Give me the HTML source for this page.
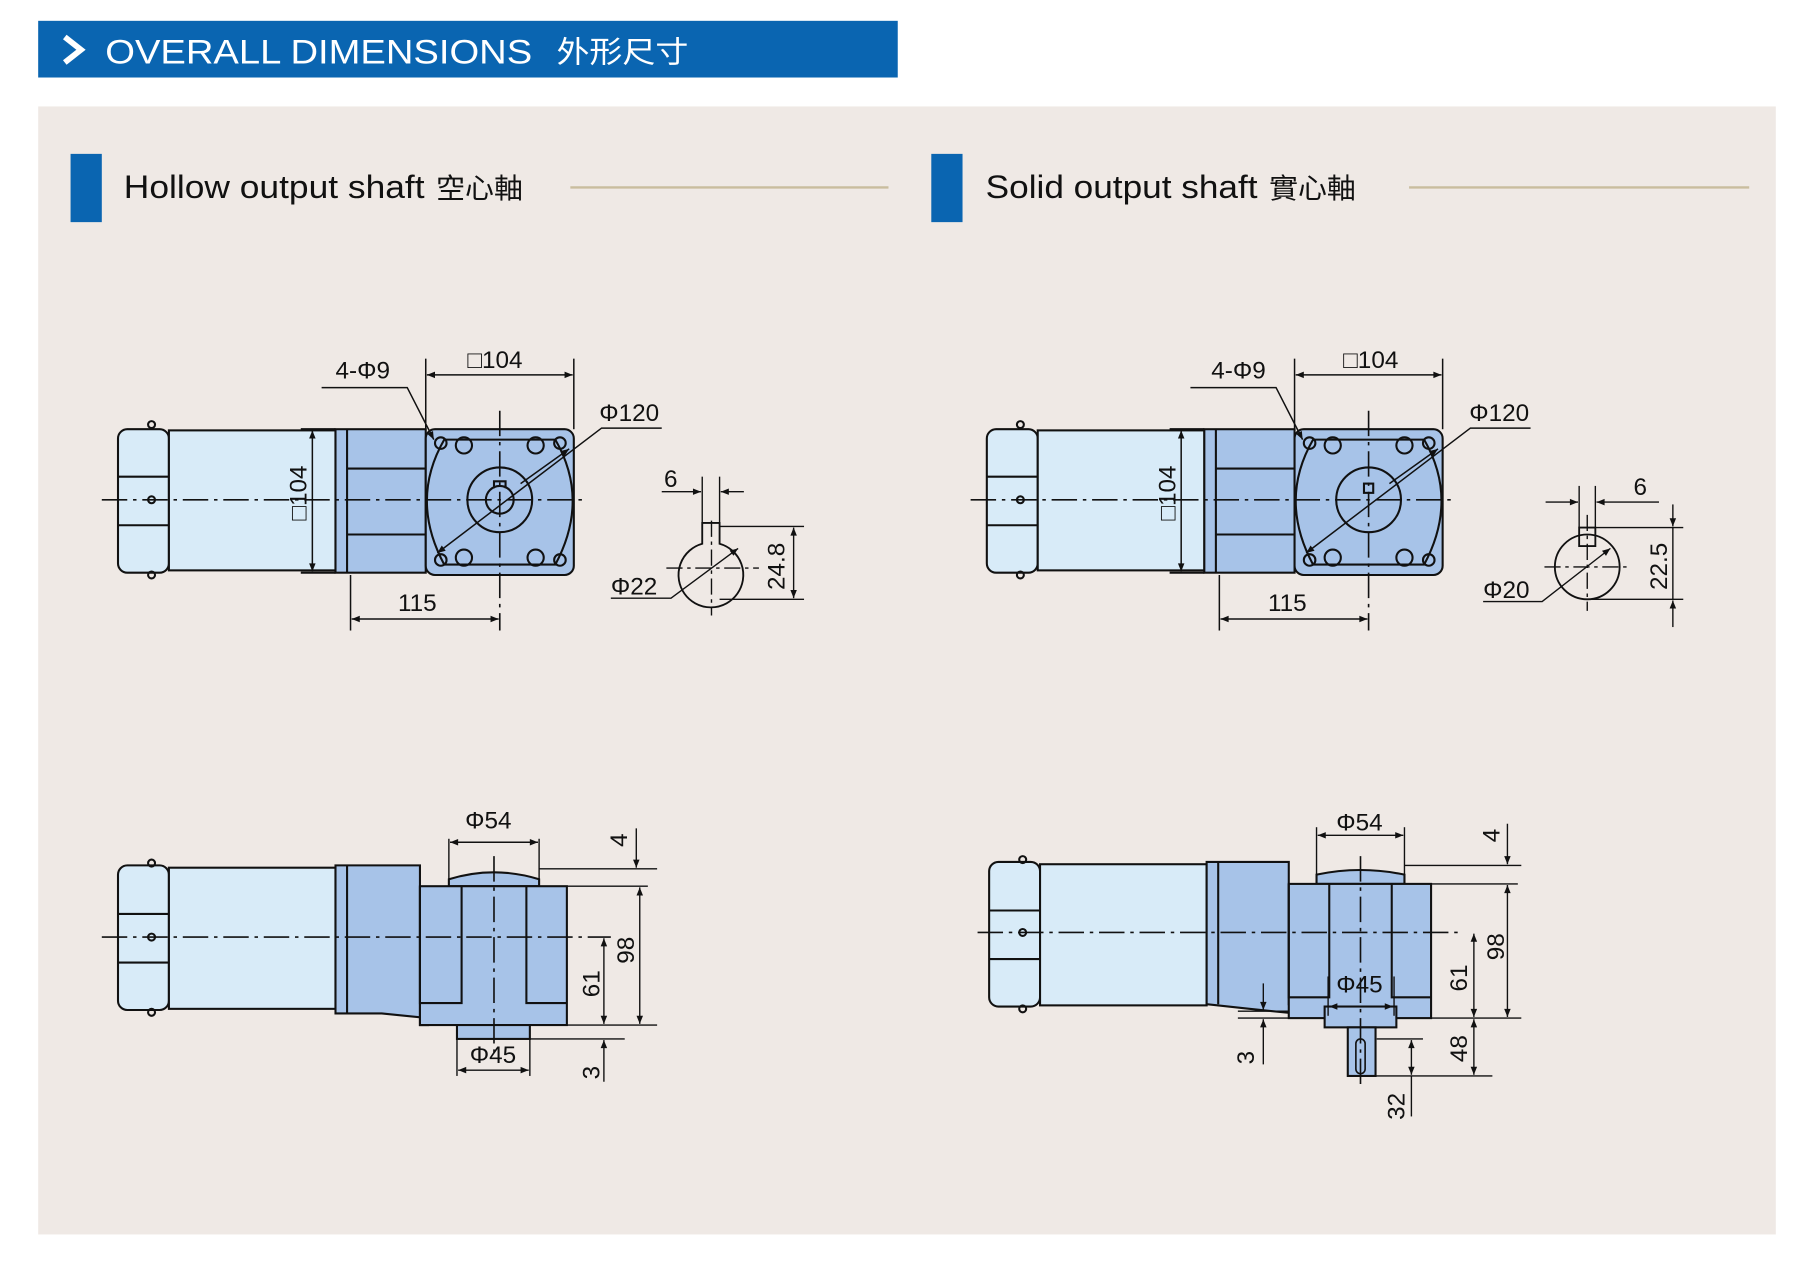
<!DOCTYPE html>
<html><head><meta charset="utf-8"><style>
html,body{margin:0;padding:0;background:#fff;}
svg{display:block;}
text{font-family:"Liberation Sans","Noto Sans CJK TC",sans-serif;fill:#111;}
</style></head><body>
<svg width="1814" height="1268" viewBox="0 0 1568 1096" preserveAspectRatio="none" xmlns="http://www.w3.org/2000/svg">
<defs>
<marker id="a" viewBox="0 0 10 10" refX="10" refY="5" markerWidth="9" markerHeight="7" orient="auto-start-reverse" markerUnits="userSpaceOnUse"><path d="M0,1 L10,5 L0,9 z" fill="#111"/></marker>
<g id="topmotor" stroke="#111" stroke-width="1.8">
  <rect x="102" y="371" width="44" height="124" rx="8" fill="#d8ebf8"/>
  <line x1="102" y1="412" x2="146" y2="412"/><line x1="102" y1="454" x2="146" y2="454"/>
  <rect x="146" y="372" width="144" height="121" fill="#d8ebf8"/>
  <rect x="290" y="371" width="78" height="124" fill="#a7c3e8"/>
  <line x1="300" y1="371" x2="300" y2="495"/>
  <line x1="300" y1="405" x2="368" y2="405"/><line x1="300" y1="462" x2="368" y2="462"/>
  <rect x="368" y="371" width="128" height="126" rx="8" fill="#a7c3e8"/>
  <path d="M384,380 L480,380 Q510,432 480,488 L384,488 Q354,432 384,380 z" fill="none"/>
  <circle cx="432" cy="432" r="28" fill="none"/>
  <circle cx="381" cy="383" r="5" fill="none"/><circle cx="484" cy="383" r="5" fill="none"/>
  <circle cx="381" cy="484" r="5" fill="none"/><circle cx="484" cy="484" r="5" fill="none"/>
  <circle cx="401" cy="385" r="7" fill="none"/><circle cx="463" cy="385" r="7" fill="none"/>
  <circle cx="401" cy="482" r="7" fill="none"/><circle cx="463" cy="482" r="7" fill="none"/>
  <line x1="88" y1="432" x2="505" y2="432" stroke-dasharray="22,5,3,5" stroke-width="1.4"/>
  <line x1="432" y1="355" x2="432" y2="545" stroke-dasharray="22,5,3,5" stroke-width="1.4"/>
  <circle cx="131" cy="432" r="3" fill="none"/>
  <circle cx="131" cy="367" r="3" fill="none"/><circle cx="131" cy="497" r="3" fill="none"/>
  <line x1="260" y1="371" x2="290" y2="371"/><line x1="260" y1="495" x2="290" y2="495"/>
  <line x1="270" y1="372" x2="270" y2="494" marker-start="url(#a)" marker-end="url(#a)" stroke-width="1.3"/>
  <line x1="368" y1="310" x2="368" y2="371" stroke-width="1.3"/><line x1="496" y1="310" x2="496" y2="371" stroke-width="1.3"/>
  <line x1="369" y1="324" x2="495" y2="324" marker-start="url(#a)" marker-end="url(#a)" stroke-width="1.3"/>
  <polyline points="278,335 352,335 375,380" fill="none" stroke-width="1.3" marker-end="url(#a)"/>
  <polyline points="572,370 520,370 378,478" fill="none" stroke-width="1.3" marker-end="url(#a)"/>
  <line x1="450" y1="418" x2="492" y2="388" marker-end="url(#a)" stroke-width="1.3"/>
  <line x1="303" y1="497" x2="303" y2="545" stroke-width="1.3"/>
  <line x1="304" y1="535" x2="431" y2="535" marker-start="url(#a)" marker-end="url(#a)" stroke-width="1.3"/>
</g>
</defs>
<rect x="33" y="18" width="743" height="49" fill="#0a65b1"/>
<polyline points="56,32 70,43 56,54" fill="none" stroke="#fff" stroke-width="5"/>
<text x="91" y="55" font-size="30" textLength="369" lengthAdjust="spacingAndGlyphs" style="fill:#fff">OVERALL DIMENSIONS</text>
<text x="481" y="54" font-size="26" textLength="114" lengthAdjust="spacingAndGlyphs" style="fill:#fff">外形尺寸</text>
<rect x="33" y="92" width="1502" height="975" fill="#efe9e5"/>
<rect x="61" y="133" width="27" height="59" fill="#0a65b1"/>
<text x="107" y="171" font-size="28" textLength="260" lengthAdjust="spacingAndGlyphs">Hollow output shaft</text>
<text x="377" y="171" font-size="24" textLength="75" lengthAdjust="spacingAndGlyphs">空心軸</text>
<line x1="493" y1="162" x2="768" y2="162" stroke="#c9bd9e" stroke-width="2"/>
<rect x="805" y="133" width="27" height="59" fill="#0a65b1"/>
<text x="852" y="171" font-size="28" textLength="235" lengthAdjust="spacingAndGlyphs">Solid output shaft</text>
<text x="1097" y="171" font-size="24" textLength="75" lengthAdjust="spacingAndGlyphs">實心軸</text>
<line x1="1218" y1="162" x2="1512" y2="162" stroke="#c9bd9e" stroke-width="2"/>

<use href="#topmotor"/>
<g stroke="#111" stroke-width="1.8" fill="none">
<circle cx="432" cy="432" r="12"/>
<path d="M427,422 L427,416 L437,416 L437,422"/>
</g>
<text x="290" y="327" font-size="21">4-Φ9</text>
<text x="404" y="318" font-size="21">□104</text>
<text x="518" y="364" font-size="21">Φ120</text>
<text x="344" y="528" font-size="21">115</text>
<text x="265" y="450" font-size="21" transform="rotate(-90 265 450)">□104</text>
<g stroke="#111" stroke-width="1.6" fill="none">
<path d="M607,470 A28,28 0 1 0 622,470 L622,452 L607,452 z"/>
<line x1="615" y1="450" x2="615" y2="532" stroke-dasharray="14,4,3,4" stroke-width="1.2"/>
<line x1="576" y1="491" x2="656" y2="491" stroke-dasharray="14,4,3,4" stroke-width="1.2"/>
<line x1="607" y1="412" x2="607" y2="452" stroke-width="1.2"/><line x1="622" y1="412" x2="622" y2="452" stroke-width="1.2"/>
<line x1="572" y1="425" x2="606" y2="425" marker-end="url(#a)" stroke-width="1.2"/>
<line x1="643" y1="425" x2="623" y2="425" marker-end="url(#a)" stroke-width="1.2"/>
<line x1="622" y1="455" x2="695" y2="455" stroke-width="1.2"/><line x1="622" y1="518" x2="695" y2="518" stroke-width="1.2"/>
<line x1="686" y1="456" x2="686" y2="517" marker-start="url(#a)" marker-end="url(#a)" stroke-width="1.2"/>
<polyline points="528,517 580,517 638,474" marker-end="url(#a)" stroke-width="1.2"/>
</g>
<text x="574" y="421" font-size="21">6</text>
<text x="528" y="514" font-size="21">Φ22</text>
<text x="678" y="510" font-size="21" transform="rotate(-90 678 510)">24.8</text>

<use href="#topmotor" transform="translate(751,0)"/>
<g stroke="#111" stroke-width="1.8" fill="none">
<rect x="1179" y="418" width="8" height="8"/>
</g>
<text x="1047" y="327" font-size="21">4-Φ9</text>
<text x="1161" y="318" font-size="21">□104</text>
<text x="1270" y="364" font-size="21">Φ120</text>
<text x="1096" y="528" font-size="21">115</text>
<text x="1016" y="450" font-size="21" transform="rotate(-90 1016 450)">□104</text>
<g stroke="#111" stroke-width="1.6" fill="none">
<circle cx="1372" cy="490" r="28"/>
<rect x="1365" y="456" width="14" height="16"/>
<line x1="1372" y1="445" x2="1372" y2="528" stroke-dasharray="14,4,3,4" stroke-width="1.2"/>
<line x1="1335" y1="490" x2="1410" y2="490" stroke-dasharray="14,4,3,4" stroke-width="1.2"/>
<line x1="1365" y1="420" x2="1365" y2="456" stroke-width="1.2"/><line x1="1379" y1="420" x2="1379" y2="456" stroke-width="1.2"/>
<line x1="1336" y1="434" x2="1364" y2="434" marker-end="url(#a)" stroke-width="1.2"/>
<line x1="1434" y1="434" x2="1380" y2="434" marker-end="url(#a)" stroke-width="1.2"/>
<line x1="1379" y1="456" x2="1455" y2="456" stroke-width="1.2"/><line x1="1372" y1="518" x2="1455" y2="518" stroke-width="1.2"/>
<line x1="1446" y1="436" x2="1446" y2="455" marker-end="url(#a)" stroke-width="1.2"/>
<line x1="1446" y1="542" x2="1446" y2="519" marker-end="url(#a)" stroke-width="1.2"/>
<line x1="1446" y1="456" x2="1446" y2="518" stroke-width="1.2"/>
<polyline points="1282,520 1333,520 1392,474" marker-end="url(#a)" stroke-width="1.2"/>
</g>
<text x="1412" y="428" font-size="21">6</text>
<text x="1282" y="517" font-size="21">Φ20</text>
<text x="1441" y="510" font-size="21" transform="rotate(-90 1441 510)">22.5</text>

<g stroke="#111" stroke-width="1.8">
<rect x="102" y="748" width="44" height="125" rx="8" fill="#d8ebf8"/>
<line x1="102" y1="790" x2="146" y2="790"/><line x1="102" y1="832" x2="146" y2="832"/>
<rect x="146" y="750" width="144" height="122" fill="#d8ebf8"/>
<path d="M290,748 L363,748 L363,766 L363,886 L370,886 L370,880 L330,876 L290,876 z" fill="#a7c3e8"/>
<line x1="300" y1="748" x2="300" y2="876"/>
<path d="M388,766 L388,760 Q427,748 466,760 L466,766 z" fill="#a7c3e8"/>
<rect x="363" y="766" width="127" height="120" fill="#a7c3e8"/>
<path d="M363,766 L363,867 L399,867 L399,766 M455,766 L455,867 L490,867" fill="none"/>
<rect x="395" y="886" width="63" height="12" fill="#a7c3e8"/>
<line x1="88" y1="810" x2="528" y2="810" stroke-dasharray="22,5,3,5" stroke-width="1.4"/>
<line x1="427" y1="740" x2="427" y2="910" stroke-dasharray="22,5,3,5" stroke-width="1.4"/>
<circle cx="131" cy="810" r="3" fill="none"/><circle cx="131" cy="746" r="3" fill="none"/><circle cx="131" cy="875" r="3" fill="none"/>
<g stroke-width="1.2" fill="none">
<line x1="388" y1="725" x2="388" y2="760"/><line x1="466" y1="725" x2="466" y2="760"/>
<line x1="389" y1="728" x2="465" y2="728" marker-start="url(#a)" marker-end="url(#a)"/>
<line x1="466" y1="751" x2="568" y2="751"/><line x1="490" y1="766" x2="560" y2="766"/>
<line x1="490" y1="886" x2="568" y2="886"/><line x1="458" y1="898" x2="540" y2="898"/>
<line x1="550" y1="716" x2="550" y2="750" marker-end="url(#a)"/>
<line x1="553" y1="767" x2="553" y2="885" marker-start="url(#a)" marker-end="url(#a)"/>
<line x1="522" y1="811" x2="522" y2="885" marker-start="url(#a)" marker-end="url(#a)"/>
<line x1="522" y1="935" x2="522" y2="899" marker-end="url(#a)"/>
<line x1="395" y1="898" x2="395" y2="930"/><line x1="458" y1="898" x2="458" y2="930"/>
<line x1="396" y1="925" x2="457" y2="925" marker-start="url(#a)" marker-end="url(#a)"/>
</g>
</g>
<text x="402" y="716" font-size="21">Φ54</text>
<text x="406" y="919" font-size="21">Φ45</text>
<text x="542" y="732" font-size="21" transform="rotate(-90 542 732)">4</text>
<text x="548" y="833" font-size="21" transform="rotate(-90 548 833)">98</text>
<text x="518" y="862" font-size="21" transform="rotate(-90 518 862)">61</text>
<text x="518" y="933" font-size="21" transform="rotate(-90 518 933)">3</text>

<g stroke="#111" stroke-width="1.8">
<rect x="855" y="745" width="44" height="125" rx="8" fill="#d8ebf8"/>
<line x1="855" y1="787" x2="899" y2="787"/><line x1="855" y1="829" x2="899" y2="829"/>
<rect x="899" y="747" width="144" height="122" fill="#d8ebf8"/>
<path d="M1043,745 L1114,745 L1114,868 L1120,868 L1120,876 L1080,872 L1043,868 z" fill="#a7c3e8"/>
<line x1="1053" y1="745" x2="1053" y2="868"/>
<path d="M1138,764 L1138,756 Q1176,748 1214,756 L1214,764 z" fill="#a7c3e8"/>
<rect x="1114" y="764" width="123" height="116" fill="#a7c3e8"/>
<path d="M1114,764 L1114,862 L1149,862 L1149,764 M1203,764 L1203,862 L1237,862" fill="none"/>
<rect x="1145" y="870" width="62" height="18" fill="#a7c3e8"/>
<rect x="1165" y="888" width="24" height="42" fill="#a7c3e8"/>
<rect x="1172" y="898" width="8" height="30" rx="4" fill="none" stroke-width="1.4"/>
<line x1="845" y1="806" x2="1265" y2="806" stroke-dasharray="22,5,3,5" stroke-width="1.4"/>
<line x1="1176" y1="740" x2="1176" y2="940" stroke-dasharray="22,5,3,5" stroke-width="1.4"/>
<circle cx="884" cy="806" r="3" fill="none"/><circle cx="884" cy="743" r="3" fill="none"/><circle cx="884" cy="872" r="3" fill="none"/>
<g stroke-width="1.2" fill="none">
<line x1="1138" y1="715" x2="1138" y2="756"/><line x1="1214" y1="715" x2="1214" y2="756"/>
<line x1="1139" y1="722" x2="1213" y2="722" marker-start="url(#a)" marker-end="url(#a)"/>
<line x1="1214" y1="748" x2="1315" y2="748"/><line x1="1237" y1="764" x2="1312" y2="764"/>
<line x1="1237" y1="880" x2="1315" y2="880"/><line x1="1189" y1="930" x2="1290" y2="930"/>
<line x1="1190" y1="898" x2="1230" y2="898"/>
<line x1="1303" y1="712" x2="1303" y2="747" marker-end="url(#a)"/>
<line x1="1303" y1="765" x2="1303" y2="879" marker-start="url(#a)" marker-end="url(#a)"/>
<line x1="1274" y1="807" x2="1274" y2="879" marker-start="url(#a)" marker-end="url(#a)"/>
<line x1="1274" y1="881" x2="1274" y2="929" marker-start="url(#a)" marker-end="url(#a)"/>
<line x1="1220" y1="899" x2="1220" y2="929" marker-start="url(#a)" marker-end="url(#a)"/>
<line x1="1220" y1="930" x2="1220" y2="965"/>
<line x1="1148" y1="844" x2="1148" y2="878"/><line x1="1205" y1="844" x2="1205" y2="878"/>
<line x1="1149" y1="870" x2="1204" y2="870" marker-start="url(#a)" marker-end="url(#a)"/>
<line x1="1070" y1="874" x2="1114" y2="874"/><line x1="1070" y1="880" x2="1114" y2="880"/>
<line x1="1092" y1="850" x2="1092" y2="873" marker-end="url(#a)"/>
<line x1="1092" y1="920" x2="1092" y2="881" marker-end="url(#a)"/>
</g>
</g>
<text x="1155" y="718" font-size="21">Φ54</text>
<text x="1155" y="858" font-size="21">Φ45</text>
<text x="1296" y="728" font-size="21" transform="rotate(-90 1296 728)">4</text>
<text x="1300" y="830" font-size="21" transform="rotate(-90 1300 830)">98</text>
<text x="1268" y="857" font-size="21" transform="rotate(-90 1268 857)">61</text>
<text x="1268" y="918" font-size="21" transform="rotate(-90 1268 918)">48</text>
<text x="1214" y="968" font-size="21" transform="rotate(-90 1214 968)">32</text>
<text x="1084" y="920" font-size="21" transform="rotate(-90 1084 920)">3</text>
</svg>
</body></html>
